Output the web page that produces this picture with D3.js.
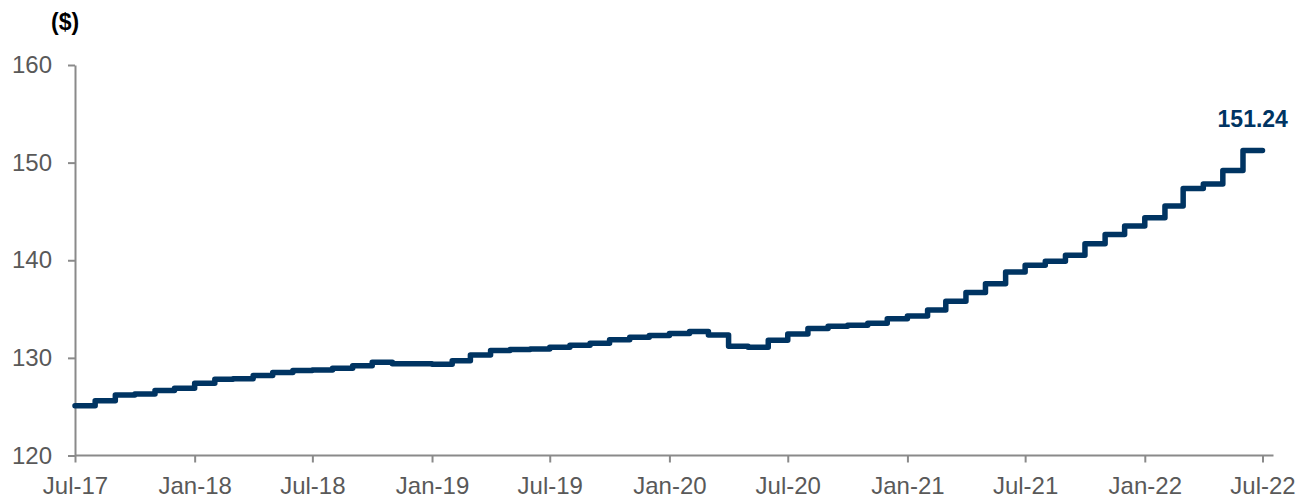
<!DOCTYPE html>
<html lang="en">
<head>
<meta charset="UTF-8">
<title>Monthly price step chart</title>
<script src="https://d3js.org/d3.v7.min.js"></script>
<style>
  body { margin: 0; background: #fff; }
  text { font-family: "Liberation Sans", Arial, sans-serif; }
</style>
</head>
<body>
<div id="chart"></div>
<script>
  // one value per month, starting Jul-17 and ending Jun-22
  var startMonth = "2017-07";
  var endMonth = "2022-07";
  var values = [
    125.1, 125.6, 126.2, 126.3, 126.65, 126.9,
    127.4, 127.8, 127.85, 128.2, 128.5, 128.7,
    128.75, 128.95, 129.2, 129.55, 129.4, 129.4,
    129.35, 129.7, 130.3, 130.75, 130.85, 130.9,
    131.1, 131.3, 131.5, 131.85, 132.1, 132.3,
    132.5, 132.7, 132.35, 131.2, 131.1, 131.8,
    132.45, 133.0, 133.25, 133.35, 133.55, 134.0,
    134.3, 134.9, 135.8, 136.7, 137.6, 138.8,
    139.5, 139.9, 140.5, 141.7, 142.65, 143.5,
    144.35, 145.55, 147.35, 147.8, 149.2, 151.24
  ];
  var yTicks = [120, 130, 140, 150, 160];
  var unitLabel = "($)";
  var lastLabel = "151.24";

  var parse = d3.timeParse("%Y-%m");
  var start = parse(startMonth);
  var end = parse(endMonth);

  var data = values.map(function(v, i) {
    return { date: d3.timeMonth.offset(start, i), value: v };
  });
  // hold the last value until the end of the axis
  var lineData = data.concat([{ date: end, value: values[values.length - 1] }]);

  var w = 1314;
  var h = 498;

  var svg = d3.select("#chart").append("svg")
    .attr("width", w)
    .attr("height", h);

  var x = d3.scaleTime()
    .domain([start, end])
    .range([75, 1262.5]);

  var y = d3.scaleLinear()
    .domain([120, 160])
    .range([455.5, 65]);

  var axisColor = "#8a8a8a";
  var labelColor = "#595959";

  // y axis
  svg.append("g")
    .attr("transform", "translate(75,0)")
    .call(d3.axisLeft(y)
      .tickValues(yTicks)
      .tickSize(7)
      .tickSizeOuter(0)
      .tickPadding(16));

  // x axis
  var xAxis = svg.append("g")
    .attr("transform", "translate(0," + y(120) + ")")
    .call(d3.axisBottom(x)
      .ticks(d3.timeMonth.every(6))
      .tickFormat(d3.timeFormat("%b-%y"))
      .tickSize(7)
      .tickSizeOuter(0)
      .tickPadding(14));

  xAxis.select(".domain").remove();
  xAxis.append("line")
    .attr("x1", x.range()[0])
    .attr("x2", x.range()[1] + 11)
    .attr("y1", 0)
    .attr("y2", 0);

  svg.selectAll(".domain, .tick line, g > line")
    .attr("stroke", axisColor)
    .attr("stroke-width", 2);

  svg.selectAll(".tick text")
    .attr("fill", labelColor)
    .style("font-size", "24px")
    .style("font-family", "'Liberation Sans', Arial, sans-serif");

  // unit label
  svg.append("text")
    .attr("x", 51)
    .attr("y", 30)
    .attr("fill", "#000")
    .style("font-size", "23px")
    .style("font-weight", "bold")
    .text(unitLabel);

  // step line
  var line = d3.line()
    .x(function(d) { return x(d.date); })
    .y(function(d) { return y(d.value); })
    .curve(d3.curveStepAfter);

  svg.append("path")
    .datum(lineData)
    .attr("d", line)
    .attr("fill", "none")
    .attr("stroke", "#003462")
    .attr("stroke-width", 5.5)
    .attr("stroke-linejoin", "round")
    .attr("stroke-linecap", "round");

  // last value label
  var last = data[data.length - 1];
  svg.append("text")
    .attr("x", (x(last.date) + x(end)) / 2)
    .attr("y", y(last.value) - 24)
    .attr("text-anchor", "middle")
    .attr("fill", "#003462")
    .style("font-size", "23px")
    .style("font-weight", "bold")
    .text(lastLabel);
</script>
</body>
</html>
